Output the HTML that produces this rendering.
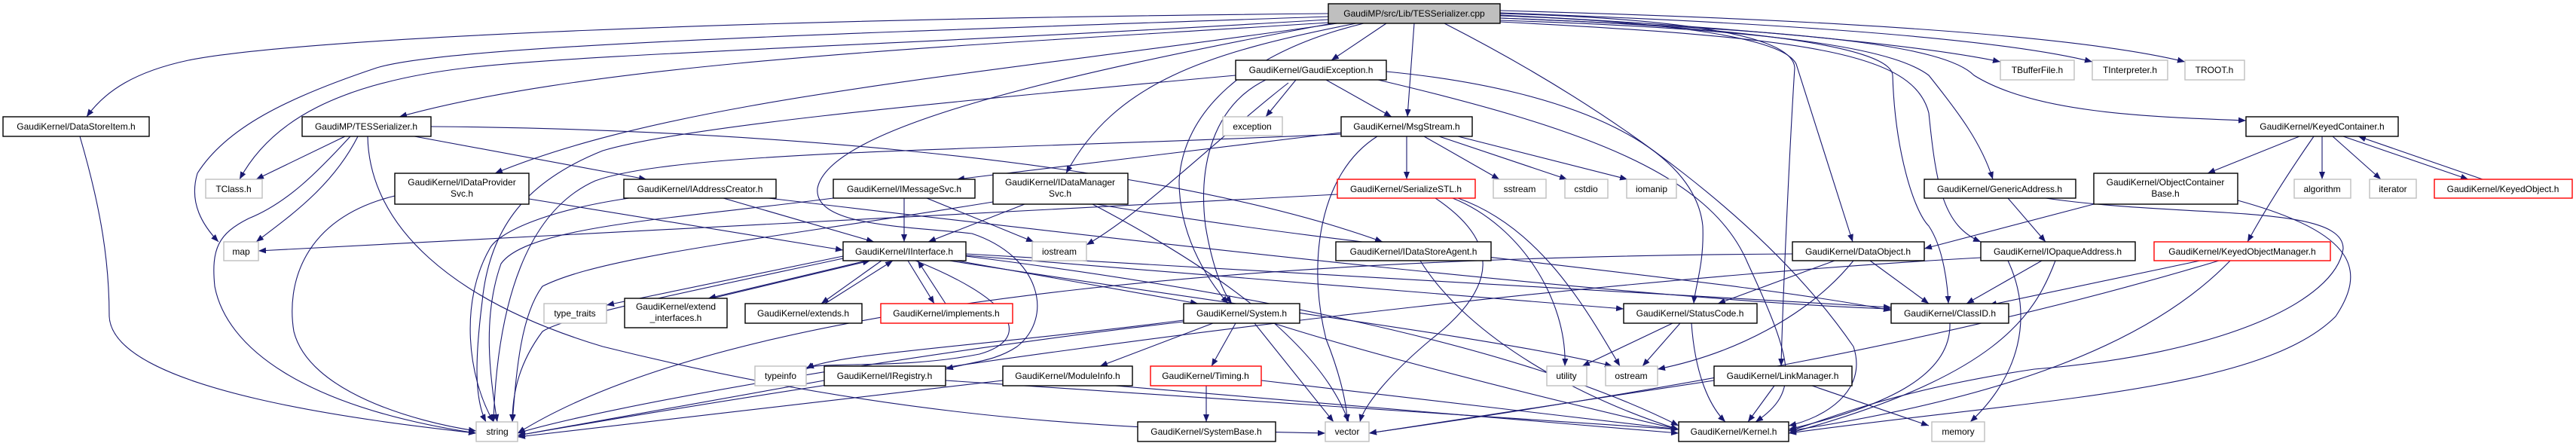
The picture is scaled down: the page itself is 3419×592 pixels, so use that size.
<!DOCTYPE html>
<html><head><meta charset="utf-8"><style>
html,body{margin:0;padding:0;background:#fff;}
svg{display:block;}
text{font-family:"Liberation Sans",Arial,sans-serif;font-size:12px;fill:#000;text-anchor:middle;}
.b{fill:#fff;stroke:#000;stroke-width:1.4;}
.g{fill:#fff;stroke:#bfbfbf;stroke-width:1.4;}
.r{fill:#fff;stroke:#ff0000;stroke-width:1.4;}
.e{fill:none;stroke:#191970;stroke-width:1.1;marker-end:url(#a);}
</style></head><body>
<svg width="3419" height="592" viewBox="0 0 3419 592" xmlns="http://www.w3.org/2000/svg">
<defs><marker id="a" markerUnits="userSpaceOnUse" markerWidth="11" markerHeight="8" refX="10" refY="4" orient="auto"><path d="M0,0 L10,4 L0,8 z" fill="#191970"/></marker></defs>
<g>
<path class="e" d="M1763,18 C1000,25 400,50 250,80 C180,95 140,120 115,155"/>
<path class="e" d="M1763,22 C1100,45 600,60 500,90 C380,130 300,170 262,230 C250,270 270,300 290,321"/>
<path class="e" d="M1763,26 C1200,60 800,70 620,90 C450,110 360,160 318,238"/>
<path class="e" d="M1763,30 C1300,60 800,80 530,155"/>
<path class="e" d="M1775,31 C1300,100 900,130 657,230"/>
<path class="e" d="M1800,31 C1600,70 1480,110 1415,230"/>
<path class="e" d="M1840,31 L1767,80"/>
<path class="e" d="M1877,31 L1868,155"/>
<path class="e" d="M1810,31 C1650,70 1570,150 1565,240 C1565,320 1610,380 1630,403"/>
<path class="e" d="M1768,31 C1400,100 1100,170 1085,250 C1080,300 1200,300 1290,310 C1380,340 1400,420 1350,460 C1320,480 1290,480 1255,490"/>
<path class="e" d="M1917,31 C2150,150 2350,300 2460,460 C2480,520 2420,555 2374,565"/>
<path class="e" d="M1991,18 C2250,25 2380,50 2382,90 C2375,200 2366,400 2364,486"/>
<path class="e" d="M1991,21 C2250,30 2370,55 2384,85 L2459,321"/>
<path class="e" d="M1991,24 C2300,35 2510,60 2512,100 C2515,200 2540,280 2560,300 C2580,330 2585,380 2586,403"/>
<path class="e" d="M1991,27 C2400,40 2520,70 2560,100 C2600,150 2630,190 2645,238"/>
<path class="e" d="M1991,29 C2400,50 2540,70 2560,150 C2570,250 2580,300 2629,321"/>
<path class="e" d="M1991,24 C2400,40 2580,60 2620,100 C2700,150 2850,155 2981,160"/>
<path class="e" d="M1991,20 C2300,35 2550,60 2655,82"/>
<path class="e" d="M1991,17 C2350,30 2650,50 2777,82"/>
<path class="e" d="M1991,14 C2400,25 2750,45 2900,82"/>
<path class="e" d="M1720,106 L1680,155"/>
<path class="e" d="M1760,106 L1847,155"/>
<path class="e" d="M1680,106 C1610,140 1590,220 1600,300 C1610,360 1625,390 1635,403"/>
<path class="e" d="M1840,95 C2100,120 2250,200 2260,300 C2262,350 2250,380 2248,403"/>
<path class="e" d="M1829,106 C2100,170 2270,230 2320,350 C2380,480 2390,520 2330,560"/>
<path class="e" d="M1640,100 C1200,140 900,170 800,200 C700,240 650,300 640,400 C630,480 630,530 645,560"/>
<path class="e" d="M1710,110 C1620,180 1520,280 1442,325"/>
<path class="e" d="M1867,181 L1867,238"/>
<path class="e" d="M1890,181 L1990,238"/>
<path class="e" d="M1910,181 L2080,238"/>
<path class="e" d="M1935,181 L2160,238"/>
<path class="e" d="M1780,176 L1270,238"/>
<path class="e" d="M1828,181 C1750,230 1735,350 1760,450 C1780,500 1788,540 1788,560"/>
<path class="e" d="M1780,178 C1300,200 900,200 790,240 C700,280 660,400 655,560"/>
<path class="e" d="M1775,258 L343,333"/>
<path class="e" d="M1905,263 C1990,320 1990,380 1900,450 C1840,500 1810,540 1805,560"/>
<path class="e" d="M1928,263 C2020,300 2080,400 2077,486"/>
<path class="e" d="M1935,263 C2040,300 2100,400 2150,486"/>
<path class="e" d="M458,181 L340,238"/>
<path class="e" d="M475,181 C440,250 380,290 340,321"/>
<path class="e" d="M465,181 C420,230 380,270 330,290 C290,310 280,330 285,380 C300,460 400,540 632,575"/>
<path class="e" d="M488,181 C490,300 600,400 800,460 C1200,560 1500,570 1759,575"/>
<path class="e" d="M550,181 L858,238"/>
<path class="e" d="M572,168 C900,170 1500,200 1835,321"/>
<path class="e" d="M106,181 C135,280 145,350 145,420 C150,520 500,560 632,575"/>
<path class="e" d="M524,260 C400,290 380,380 390,440 C410,520 550,560 632,572"/>
<path class="e" d="M702,264 L1119,332"/>
<path class="e" d="M960,263 L1160,321"/>
<path class="e" d="M835,263 C720,280 660,310 650,330 C610,400 620,500 655,560"/>
<path class="e" d="M1020,263 C1500,320 2200,400 2510,410"/>
<path class="e" d="M1200,263 L1200,321"/>
<path class="e" d="M1230,263 L1372,321"/>
<path class="e" d="M1106,263 C900,290 700,300 665,350 C640,420 650,500 660,560"/>
<path class="e" d="M1360,271 L1232,321"/>
<path class="e" d="M1455,271 C1800,330 2300,370 2510,412"/>
<path class="e" d="M1450,271 C1600,350 1750,450 1790,560"/>
<path class="e" d="M1318,268 C1000,320 800,340 720,380 C690,420 685,500 680,560"/>
<path class="e" d="M1150,346 L940,396"/>
<path class="e" d="M945,396 L1155,346"/>
<path class="e" d="M1170,346 L1090,403"/>
<path class="e" d="M1095,403 L1185,346"/>
<path class="e" d="M1205,346 L1240,403"/>
<path class="e" d="M1255,403 L1218,346"/>
<path class="e" d="M1270,346 L1590,403"/>
<path class="e" d="M1215,346 C1350,400 1370,450 1300,470 C1200,490 1100,480 1070,488"/>
<path class="e" d="M1119,340 L805,405"/>
<path class="e" d="M1119,343 C900,390 750,420 720,440 C690,480 680,520 680,560"/>
<path class="e" d="M1282,340 C1600,380 2000,450 2228,565"/>
<path class="e" d="M1282,337 L2510,408"/>
<path class="e" d="M1282,339 L2155,410"/>
<path class="e" d="M1260,346 C1600,400 2000,450 2140,486"/>
<path class="e" d="M1255,505 L2228,570"/>
<path class="e" d="M1094,505 L687,578"/>
<path class="e" d="M1610,429 L1460,486"/>
<path class="e" d="M1640,429 L1608,486"/>
<path class="e" d="M1665,429 L1770,560"/>
<path class="e" d="M1690,429 C1850,480 2100,540 2228,570"/>
<path class="e" d="M1571,427 C1200,470 800,540 687,575"/>
<path class="e" d="M1571,425 C1300,460 1100,470 1070,490"/>
<path class="e" d="M1331,505 L687,580"/>
<path class="e" d="M1480,512 L2228,575"/>
<path class="e" d="M1601,512 L1601,560"/>
<path class="e" d="M1674,505 L2228,570"/>
<path class="e" d="M2220,429 L2100,486"/>
<path class="e" d="M2230,429 L2180,486"/>
<path class="e" d="M2245,429 C2250,500 2270,540 2290,560"/>
<path class="e" d="M2435,346 L2280,403"/>
<path class="e" d="M2482,346 L2560,403"/>
<path class="e" d="M2460,346 C2400,420 2300,470 2200,490"/>
<path class="e" d="M2379,337 C1800,340 1000,380 687,575"/>
<path class="e" d="M2588,429 C2590,500 2500,540 2374,570"/>
<path class="e" d="M2355,512 L2320,560"/>
<path class="e" d="M2405,512 L2560,565"/>
<path class="e" d="M2275,505 L1817,575"/>
<path class="e" d="M2710,346 L2610,403"/>
<path class="e" d="M2728,346 C2700,420 2650,500 2374,575"/>
<path class="e" d="M2629,342 C2300,360 1600,420 687,578"/>
<path class="e" d="M2665,263 L2715,321"/>
<path class="e" d="M2715,263 C2900,290 3110,270 3110,330 C3100,400 2950,470 2700,490 C2500,520 2420,560 2374,572"/>
<path class="e" d="M2779,271 L2554,330"/>
<path class="e" d="M2970,266 C3130,310 3140,360 3100,420 C3000,520 2700,530 2374,575"/>
<path class="e" d="M3052,181 L2930,230"/>
<path class="e" d="M3082,181 L3082,238"/>
<path class="e" d="M3096,181 L3160,238"/>
<path class="e" d="M3110,181 L3276,238"/>
<path class="e" d="M3295,238 L3130,181"/>
<path class="e" d="M3071,181 C3030,240 3000,290 2983,321"/>
<path class="e" d="M2920,346 L2640,405"/>
<path class="e" d="M2945,346 C2600,450 2200,520 1817,575"/>
<path class="e" d="M2960,346 C2850,460 2650,530 2374,572"/>
<path class="e" d="M2665,346 C2700,420 2680,500 2615,560"/>
<path class="e" d="M1885,346 C1950,450 2100,530 2228,570"/>
</g>
<g>
<rect x="1763" y="5" width="228" height="26" style="fill:#bfbfbf;stroke:#000;stroke-width:1.4"/><text x="1877" y="22">GaudiMP/src/Lib/TESSerializer.cpp</text>
<rect class="b" x="4" y="155" width="194" height="26"/><text x="101" y="172">GaudiKernel/DataStoreItem.h</text>
<rect class="b" x="401" y="155" width="171" height="26"/><text x="486" y="172">GaudiMP/TESSerializer.h</text>
<rect class="g" x="273" y="238" width="75" height="25"/><text x="310" y="255">TClass.h</text>
<rect class="b" x="524" y="230" width="178" height="41"/><text x="613" y="246">GaudiKernel/IDataProvider</text><text x="613" y="261">Svc.h</text>
<rect class="g" x="297" y="321" width="46" height="25"/><text x="320" y="338">map</text>
<rect class="g" x="722" y="403" width="83" height="26"/><text x="763" y="420">type_traits</text>
<rect class="g" x="632" y="560" width="55" height="26"/><text x="660" y="577">string</text>
<rect class="b" x="828" y="238" width="202" height="25"/><text x="929" y="255">GaudiKernel/IAddressCreator.h</text>
<rect class="b" x="829" y="396" width="136" height="39"/><text x="897" y="411">GaudiKernel/extend</text><text x="897" y="426">_interfaces.h</text>
<rect class="b" x="1640" y="80" width="200" height="26"/><text x="1740" y="97">GaudiKernel/GaudiException.h</text>
<rect class="g" x="1623" y="155" width="79" height="25"/><text x="1662" y="172">exception</text>
<rect class="b" x="1106" y="238" width="188" height="25"/><text x="1200" y="255">GaudiKernel/IMessageSvc.h</text>
<rect class="b" x="1318" y="230" width="179" height="41"/><text x="1407" y="246">GaudiKernel/IDataManager</text><text x="1407" y="261">Svc.h</text>
<rect class="b" x="1119" y="321" width="163" height="25"/><text x="1200" y="338">GaudiKernel/IInterface.h</text>
<rect class="g" x="1370" y="321" width="72" height="25"/><text x="1406" y="338">iostream</text>
<rect class="b" x="989" y="403" width="155" height="26"/><text x="1066" y="420">GaudiKernel/extends.h</text>
<rect class="r" x="1169" y="403" width="175" height="26"/><text x="1256" y="420">GaudiKernel/implements.h</text>
<rect class="b" x="1571" y="403" width="154" height="26"/><text x="1648" y="420">GaudiKernel/System.h</text>
<rect class="g" x="1002" y="486" width="68" height="26"/><text x="1036" y="503">typeinfo</text>
<rect class="b" x="1094" y="486" width="161" height="26"/><text x="1174" y="503">GaudiKernel/IRegistry.h</text>
<rect class="b" x="1331" y="486" width="172" height="26"/><text x="1417" y="503">GaudiKernel/ModuleInfo.h</text>
<rect class="r" x="1527" y="486" width="147" height="26"/><text x="1600" y="503">GaudiKernel/Timing.h</text>
<rect class="b" x="1510" y="560" width="183" height="26"/><text x="1601" y="577">GaudiKernel/SystemBase.h</text>
<rect class="b" x="1780" y="155" width="174" height="26"/><text x="1867" y="172">GaudiKernel/MsgStream.h</text>
<rect class="r" x="1775" y="238" width="183" height="25"/><text x="1866" y="255">GaudiKernel/SerializeSTL.h</text>
<rect class="g" x="1982" y="238" width="70" height="25"/><text x="2017" y="255">sstream</text>
<rect class="g" x="2077" y="238" width="57" height="25"/><text x="2105" y="255">cstdio</text>
<rect class="g" x="2159" y="238" width="66" height="25"/><text x="2192" y="255">iomanip</text>
<rect class="b" x="1773" y="321" width="206" height="25"/><text x="1876" y="338">GaudiKernel/IDataStoreAgent.h</text>
<rect class="b" x="2379" y="321" width="175" height="25"/><text x="2466" y="338">GaudiKernel/DataObject.h</text>
<rect class="b" x="2155" y="403" width="177" height="26"/><text x="2243" y="420">GaudiKernel/StatusCode.h</text>
<rect class="b" x="2510" y="403" width="156" height="26"/><text x="2588" y="420">GaudiKernel/ClassID.h</text>
<rect class="g" x="2053" y="486" width="53" height="26"/><text x="2079" y="503">utility</text>
<rect class="g" x="2131" y="486" width="69" height="26"/><text x="2165" y="503">ostream</text>
<rect class="b" x="2275" y="486" width="183" height="26"/><text x="2366" y="503">GaudiKernel/LinkManager.h</text>
<rect class="g" x="1759" y="560" width="58" height="26"/><text x="1788" y="577">vector</text>
<rect class="b" x="2228" y="560" width="146" height="26"/><text x="2301" y="577">GaudiKernel/Kernel.h</text>
<rect class="g" x="2655" y="80" width="98" height="26"/><text x="2704" y="97">TBufferFile.h</text>
<rect class="g" x="2777" y="80" width="100" height="26"/><text x="2827" y="97">TInterpreter.h</text>
<rect class="g" x="2900" y="80" width="79" height="26"/><text x="2939" y="97">TROOT.h</text>
<rect class="b" x="2981" y="155" width="202" height="26"/><text x="3082" y="172">GaudiKernel/KeyedContainer.h</text>
<rect class="b" x="2554" y="238" width="201" height="25"/><text x="2654" y="255">GaudiKernel/GenericAddress.h</text>
<rect class="b" x="2779" y="230" width="191" height="41"/><text x="2874" y="246">GaudiKernel/ObjectContainer</text><text x="2874" y="261">Base.h</text>
<rect class="g" x="3045" y="238" width="75" height="25"/><text x="3082" y="255">algorithm</text>
<rect class="g" x="3145" y="238" width="62" height="25"/><text x="3176" y="255">iterator</text>
<rect class="r" x="3231" y="238" width="183" height="25"/><text x="3322" y="255">GaudiKernel/KeyedObject.h</text>
<rect class="b" x="2629" y="321" width="205" height="25"/><text x="2731" y="338">GaudiKernel/IOpaqueAddress.h</text>
<rect class="r" x="2859" y="321" width="234" height="25"/><text x="2976" y="338">GaudiKernel/KeyedObjectManager.h</text>
<rect class="g" x="2564" y="560" width="70" height="26"/><text x="2599" y="577">memory</text>
</g>
</svg>
</body></html>
